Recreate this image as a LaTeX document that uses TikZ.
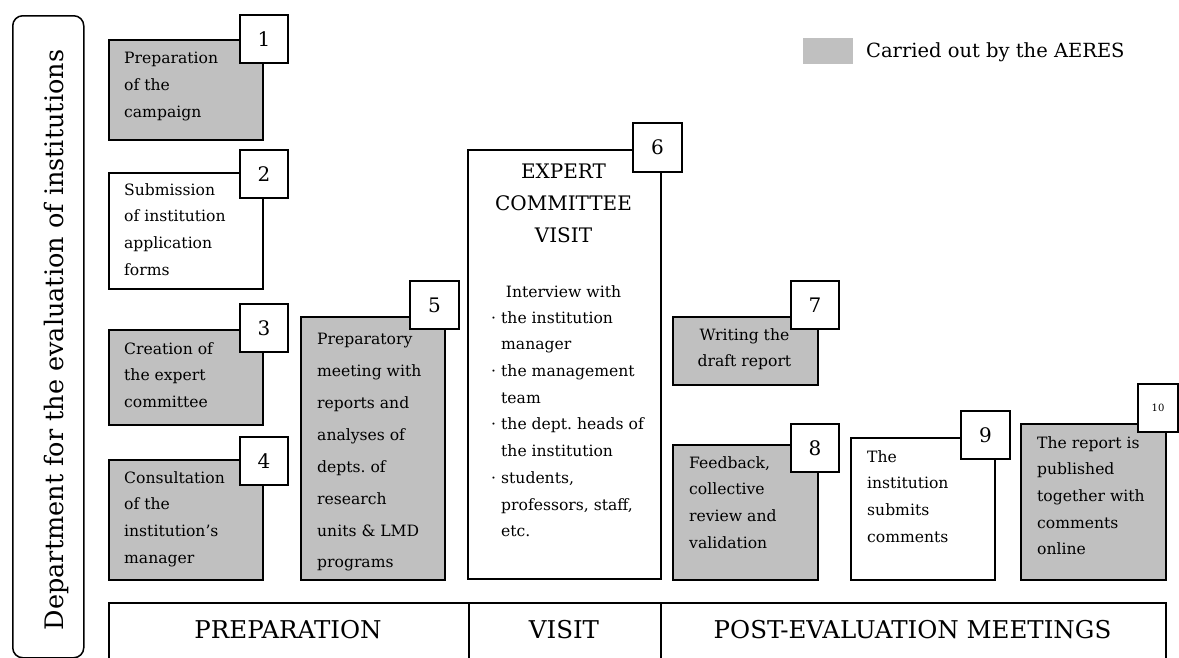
\documentclass[tikz,border=0pt]{standalone}
\usepackage{fontspec}
\setmainfont{DejaVu Serif}
\frenchspacing
\definecolor{aeres}{HTML}{C0C0C0}
\tikzset{
  stepbox/.style={draw, line width=1.5pt, inner sep=0pt, anchor=north west},
  gbox/.style={stepbox, fill=aeres},
  wbox/.style={stepbox, fill=white},
  numbox/.style={draw, line width=1.5pt, fill=white, inner sep=0pt, minimum width=48pt, minimum height=48pt, font=\fontsize{20}{24}\selectfont},
  boxtxt/.style={anchor=north west, inner sep=0pt, align=left, font=\fontsize{15.6}{26.7}\selectfont},
  phase/.style={draw, line width=1.5pt, inner sep=0pt, anchor=north west, minimum height=70pt},
  phasetxt/.style={anchor=base, inner sep=0pt, font=\fontsize{24.5}{28}\selectfont},
}
\newcommand{\bul}{\makebox[9pt][l]{\hspace*{-1pt}·}}
\begin{document}
\begin{tikzpicture}[x=1pt,y=-1pt]
\useasboundingbox (0,0) rectangle (1179,657);

% side title
\node[draw, line width=1.5pt, rounded corners=10pt, inner sep=0pt, anchor=north west, minimum width=71pt, minimum height=642pt] (side) at (12,15) {};
\node[rotate=90, anchor=base, inner sep=0pt, font=\fontsize{25.5}{30}\selectfont] (sidetxt) at (63,340) {Department for the evaluation of institutions};

% legend
\node[fill=aeres, inner sep=0pt, anchor=north west, minimum width=50pt, minimum height=26pt] (legbox) at (803,38) {};
\node[anchor=base west, inner sep=0pt, font=\fontsize{19.5}{24}\selectfont] (legtxt) at (866,57) {Carried out by the AERES};

% step boxes
\node[gbox, minimum width=154pt, minimum height=100pt] (b1) at (108,39) {};
\node[wbox, minimum width=154pt, minimum height=116pt] (b2) at (108,172) {};
\node[gbox, minimum width=154pt, minimum height=95pt] (b3) at (108,329) {};
\node[gbox, minimum width=154pt, minimum height=120pt] (b4) at (108,459) {};
\node[gbox, minimum width=144pt, minimum height=263pt] (b5) at (300,316) {};
\node[wbox, minimum width=193pt, minimum height=429pt] (b6) at (467,149) {};
\node[gbox, minimum width=145pt, minimum height=68pt] (b7) at (672,316) {};
\node[gbox, minimum width=145pt, minimum height=135pt] (b8) at (672,444) {};
\node[wbox, minimum width=144pt, minimum height=142pt] (b9) at (850,437) {};
\node[gbox, minimum width=145pt, minimum height=156pt] (b10) at (1020,423) {};

% texts
\node[boxtxt] (t1) at (124,52.1) {Preparation\\of the\\campaign};
\node[boxtxt] (t2) at (124,183.1) {Submission\\of institution\\application\\forms};
\node[boxtxt] (t3) at (124,342.1) {Creation of\\the expert\\committee};
\node[boxtxt] (t4) at (124,471.1) {Consultation\\of the\\institution’s\\manager};
\node[boxtxt, font=\fontsize{15.6}{31.9}\selectfont] (t5) at (317,333.1) {Preparatory\\meeting with\\reports and\\analyses of\\depts. of\\research\\units \& LMD\\programs};
\node[anchor=north, inner sep=0pt, align=center, font=\fontsize{20}{32}\selectfont] (t6) at (563.5,163.4) {EXPERT\\COMMITTEE\\VISIT};
\node[anchor=base, inner sep=0pt, font=\fontsize{15.6}{26.7}\selectfont] (t6i) at (563.5,297) {Interview with};
\node[boxtxt] (t6l) at (492,311.1) {\bul the institution\\\hspace*{9pt}manager\\\bul the management\\\hspace*{9pt}team\\\bul the dept. heads of\\\hspace*{9pt}the institution\\\bul students,\\\hspace*{9pt}professors, staff,\\\hspace*{9pt}etc.};
\node[anchor=north, inner sep=0pt, align=center, font=\fontsize{15.6}{26.7}\selectfont] (t7) at (744.5,328.1) {Writing the\\draft report};
\node[boxtxt] (t8) at (689,456.1) {Feedback,\\collective\\review and\\validation};
\node[boxtxt] (t9) at (867,450.1) {The\\institution\\submits\\comments};
\node[boxtxt] (t10) at (1037,436.1) {The report is\\published\\together with\\comments\\online};

% numbers
\node[numbox] (n1) at (264,39) {1};
\node[numbox] (n2) at (264,174) {2};
\node[numbox] (n3) at (264,328) {3};
\node[numbox] (n4) at (264,461) {4};
\node[numbox, minimum width=49pt] (n5) at (434.5,305) {5};
\node[numbox, minimum width=49pt, minimum height=49pt] (n6) at (657.5,147.5) {6};
\node[numbox] (n7) at (815,305) {7};
\node[numbox] (n8) at (815,448) {8};
\node[numbox, minimum width=49pt] (n9) at (985.5,435) {9};
\node[numbox, minimum width=40pt, font=\fontsize{10}{12}\selectfont] (n10) at (1158,408) {10};

% phases
\node[phase, minimum width=360pt] (p1) at (108,602) {};
\node[phase, minimum width=192pt] (p2) at (468,602) {};
\node[phase, minimum width=505pt] (p3) at (660,602) {};
\node[phasetxt] (p1t) at (288,638) {PREPARATION};
\node[phasetxt] (p2t) at (564,638) {VISIT};
\node[phasetxt] (p3t) at (912.5,638) {POST-EVALUATION MEETINGS};
\end{tikzpicture}
\end{document}
